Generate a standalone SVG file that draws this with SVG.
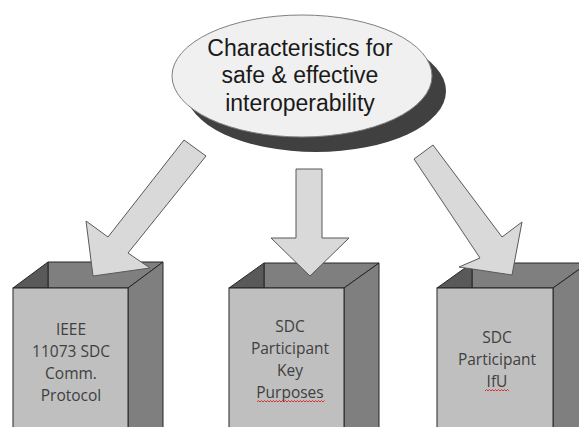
<svg xmlns="http://www.w3.org/2000/svg" width="579" height="427" viewBox="0 0 579 427">
<style>
.front{fill:#bfbfbf;stroke:#262626;stroke-width:1}
.side{fill:#7f7f7f;stroke:#262626;stroke-width:1}
.back{fill:#7f7f7f;stroke:#262626;stroke-width:1}
.inner{fill:#595959;stroke:#262626;stroke-width:1}
.bt{font-family:"Open Sans",sans-serif;font-size:15.5px;fill:#404040;text-anchor:middle}
.arrow{fill:#d9d9d9;stroke:#595959;stroke-width:1;stroke-linejoin:miter}
.et{font-family:"Liberation Sans",Arial,sans-serif;font-size:23px;fill:#1a1a1a;text-anchor:middle}
.sq{fill:none;stroke:#e02020;stroke-width:0.9}
</style>
<rect width="579" height="427" fill="#ffffff"/>
<g id="main">
<ellipse cx="316" cy="91" rx="130" ry="61" fill="#404040"/>
<ellipse cx="302" cy="76" rx="130" ry="61" fill="#f0f0f0" stroke="#7f7f7f" stroke-width="1"/>
<text class="et" x="300" y="55.5">Characteristics for</text>
<text class="et" x="300" y="83">safe &amp; effective</text>
<text class="et" x="300" y="110.5">interoperability</text>
</g>
<g id="box1">
<polygon class="back" points="48,262 163,262 128,288 48,288"/>
<polygon class="inner" points="13,288 48,262 48,288"/>
<polygon class="side" points="128,288 163,262 163,430 128,430"/>
<rect class="front" x="13" y="288" width="115" height="142"/>
<text class="bt" x="71" y="335">IEEE</text>
<text class="bt" x="71" y="357">11073 SDC</text>
<text class="bt" x="71" y="379">Comm.</text>
<text class="bt" x="71" y="401">Protocol</text>
</g>
<g id="box2">
<polygon class="back" points="264,263 379,263 344,288 264,288"/>
<polygon class="inner" points="229,288 264,263 264,288"/>
<polygon class="side" points="344,288 379,263 379,430 344,430"/>
<rect class="front" x="229" y="288" width="115" height="142"/>
<text class="bt" x="290" y="332">SDC</text>
<text class="bt" x="290" y="354">Participant</text>
<text class="bt" x="290" y="376">Key</text>
<text class="bt" x="290" y="398">Purposes</text>
<path class="sq" d="M257,402 l1.5,-1.5 l1.5,1.5 l1.5,-1.5 l1.5,1.5 l1.5,-1.5 l1.5,1.5 l1.5,-1.5 l1.5,1.5 l1.5,-1.5 l1.5,1.5 l1.5,-1.5 l1.5,1.5 l1.5,-1.5 l1.5,1.5 l1.5,-1.5 l1.5,1.5 l1.5,-1.5 l1.5,1.5 l1.5,-1.5 l1.5,1.5 l1.5,-1.5 l1.5,1.5 l1.5,-1.5 l1.5,1.5 l1.5,-1.5 l1.5,1.5 l1.5,-1.5 l1.5,1.5 l1.5,-1.5 l1.5,1.5 l1.5,-1.5 l1.5,1.5 l1.5,-1.5 l1.5,1.5 l1.5,-1.5 l1.5,1.5 l1.5,-1.5 l1.5,1.5 l1.5,-1.5 l1.5,1.5 l1.5,-1.5 l1.5,1.5 l1.5,-1.5 l1.5,1.5 l1.5,-1.5"/>
</g>
<g id="box3">
<polygon class="back" points="472,263 588,263 553,288 472,288"/>
<polygon class="inner" points="437,288 472,263 472,288"/>
<polygon class="side" points="553,288 588,263 588,430 553,430"/>
<rect class="front" x="437" y="288" width="116" height="142"/>
<text class="bt" x="497" y="343">SDC</text>
<text class="bt" x="497" y="365">Participant</text>
<text class="bt" x="497" y="387">IfU</text>
<path class="sq" d="M485,391 l1.5,-1.5 l1.5,1.5 l1.5,-1.5 l1.5,1.5 l1.5,-1.5 l1.5,1.5 l1.5,-1.5 l1.5,1.5 l1.5,-1.5 l1.5,1.5 l1.5,-1.5 l1.5,1.5 l1.5,-1.5 l1.5,1.5 l1.5,-1.5 l1.5,1.5"/>
</g>
<g id="connectors">
<polygon class="arrow" points="184,140 108,237 86,221 93,276 150,268 128,253 206,156"/>
<polygon class="arrow" points="296,169 296,238 271,238 310,276 349,238 322,238 322,169"/>
<polygon class="arrow" points="414,159 480,258 459,267 512,275 522,222 502,237 433,145"/>
</g>
</svg>
